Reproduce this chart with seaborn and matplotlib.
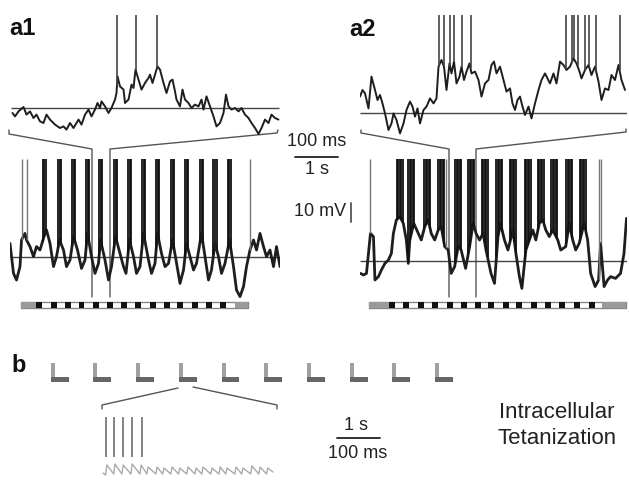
import numpy as np
import matplotlib.pyplot as plt
import seaborn as sns

# ---- a1: zoomed trace (ms, mV rel. to line) ----
a1z_t = [5, 10, 17, 27, 33, 40, 47, 53, 60, 67, 73, 80, 90, 100, 107, 113, 120, 127, 137, 143,
         150, 157, 163, 170, 175, 180, 183, 190, 197, 203, 210, 213, 215, 220, 227, 230, 237, 243, 247, 251,
         257, 263, 270, 277, 280, 285, 290, 295, 300, 307, 313, 320, 325, 330, 333, 340, 345, 350, 357, 363,
         370, 377, 383, 387, 393, 400, 407, 413, 420, 427, 432, 437, 443, 450, 457, 463, 470, 477, 483, 490,
         497, 503, 510, 517, 523, 530, 537]
a1z_v = [-2.5, -4.2, -1.7, 0.5, -3.3, -1.7, -5, -3.3, -6.7, -7.5, -3.3, -5.8, -8.3, -10, -9.2, -10.8, -7.5, -10, -5.8, -8.3,
         -3.3, -0.8, -4.2, -0.8, 2.5, 0, 3.3, 0.8, -2.5, 0, 4.2, 7.5, 15.8, 10.8, 9.2, 2.5, 4.2, 11.7, 10, 19.2,
         14.2, 9.2, 12.5, 15, 16.7, 12.5, 16.7, 20.8, 19.2, 12.5, 7.5, 13.3, 14.2, 8.3, 4.2, 0.8, 9.2, 4.2, 2.5, 0,
         1.7, 0.8, 4.2, -0.8, 5.8, 0.8, -4.2, -9.2, -7.5, -2.5, 6.7, 0.8, -0.8, 0, -1.7, 0, -3.3, -5, -7.5, -10,
         -13, -10, -5.8, -7.5, -3.3, -5, -5.8]
a1z_spikes = [214, 252, 294]

# ---- a1: full trace (s, mV) ----
a1_t = [0, 0.07, 0.13, 0.2, 0.23, 0.3, 0.33, 0.4, 0.47, 0.53, 0.6, 0.68, 0.73, 0.8, 0.87, 0.93, 0.99, 1.07, 1.13, 1.2,
        1.27, 1.35, 1.43, 1.5, 1.55, 1.63, 1.7, 1.77, 1.81, 1.9, 1.97, 2.03, 2.11, 2.2, 2.27, 2.32, 2.39, 2.47, 2.53, 2.6,
        2.67, 2.77, 2.83, 2.9, 2.95, 3.03, 3.1, 3.17, 3.25, 3.32, 3.4, 3.47, 3.53, 3.6, 3.67, 3.73, 3.83, 3.9, 3.97, 4.03,
        4.1, 4.17, 4.23, 4.3, 4.39, 4.47, 4.53, 4.6, 4.67, 4.73, 4.8, 4.87, 4.93, 5.0, 5.07, 5.13, 5.2, 5.27, 5.33, 5.4]
a1_v = [6.8, -8.2, -11.5, -4.8, 8.5, 11.8, 8.5, 5.2, 0.2, 5.2, 3.5, 10.2, 13.5, 6.8, -4.8, 0.2, 8.5, 3.5, -4.8, -1.5,
        10.2, 3.5, -5.7, -1.5, 11.8, 0.2, -8.2, -3.2, 8.5, -1.5, -11.5, -4.8, 10.2, 1.8, -4.8, -8.2, 8.5, 0.2, -8.2, -4.8,
        11.8, -1.5, -8.2, -3.2, 11.8, 1.8, -4.8, -3.2, 8.5, -1.5, -13.2, -6.5, 6.8, 0.2, -6.5, -3.2, 11.8, 0.2, -11.5, -6.5,
        6.8, 0.2, -8.2, -3.2, 8.5, -4.8, -16.5, -19.8, -14.8, -4.8, 3.5, 8.5, 3.5, 11.8, 5.2, 0.2, 3.5, -4.8, 5.2, -4.8]
a1_bursts = [0.68, 0.99, 1.27, 1.55, 1.81, 2.11, 2.39, 2.67, 2.95, 3.25, 3.53, 3.83, 4.1, 4.39]
a1_singles = [0.23, 0.33, 4.8]
a1_pulses = [0.57, 0.87, 1.15, 1.43, 1.71, 2.0, 2.28, 2.56, 2.85, 3.13, 3.4, 3.69, 3.97, 4.25]

# ---- a2: zoomed trace ----
a2z_t = [0, 5, 10, 17, 23, 30, 35, 40, 45, 50, 57, 63, 67, 73, 80, 87, 93, 100, 105, 110,
         115, 120, 127, 133, 140, 147, 153, 157, 163, 168, 173, 179, 183, 188, 193, 199, 203, 208, 213, 219,
         223, 230, 237, 243, 250, 257, 263, 268, 273, 280, 287, 293, 300, 305, 310, 315, 320, 325, 330, 337,
         343, 350, 357, 363, 370, 375, 380, 387, 393, 400, 407, 413, 420, 427, 433, 439, 443, 450, 457, 463,
         470, 477, 483, 490, 497, 503, 510, 517, 523, 530]
a2z_v = [8.2, 11.5, 9.8, 2.3, 18.2, 11.5, 6.5, 9, 4.8, -0.2, -8.5, -5.2, -0.2, -3.5, -10.2, -5.2, 1.5, 5.7, 3.2, -1.8,
         2.3, -5.2, 1.5, 3.2, 7.3, 4.8, 7.3, 23.2, 26.5, 23.2, 11.5, 24.8, 19.8, 25.7, 14.8, 18.2, 23.2, 16.5, 20.7, 24.8,
         19.8, 20.7, 16.5, 8.2, 14.8, 16.5, 24, 25.7, 19.8, 23.2, 16.5, 10.7, 12.3, 4.8, 1.5, 6.5, 8.2, 3.2, -1, 3.2,
         -2.7, 4.8, 11.5, 16.5, 19.8, 17.3, 14.8, 19.8, 14.8, 25.7, 24, 21.5, 23.2, 27.3, 24.8, 20.7, 17.3, 21.5, 24, 19,
         23.2, 15.7, 6.5, 12.3, 11.5, 19, 16.5, 24, 16.5, 11.5]
a2z_spikes = [157, 167, 180, 188, 203, 221, 412, 423, 427, 435, 450, 457, 472, 519]

# ---- a2: full trace ----
a2_t = [0.01, 0.07, 0.13, 0.21, 0.27, 0.3, 0.37, 0.43, 0.5, 0.57, 0.63, 0.67, 0.73, 0.8, 0.87, 0.93, 0.97, 1.0, 1.08, 1.17,
        1.23, 1.3, 1.37, 1.43, 1.5, 1.57, 1.63, 1.7, 1.77, 1.83, 1.9, 1.97, 2.03, 2.12, 2.2, 2.27, 2.33, 2.4, 2.47, 2.53,
        2.63, 2.7, 2.77, 2.82, 2.9, 2.97, 3.07, 3.13, 3.2, 3.25, 3.33, 3.4, 3.47, 3.53, 3.6, 3.67, 3.73, 3.8, 3.87, 3.97,
        4.03, 4.13, 4.2, 4.27, 4.33, 4.4, 4.5, 4.57, 4.63, 4.72, 4.79, 4.83, 4.9, 4.97, 5.03, 5.13, 5.23, 5.3, 5.35]
a2_v = [-6.2, -7, -6.2, 13.8, 12.2, -9.5, -7.8, -4.5, -1.2, 0.5, 3.8, 13.8, 20.5, 22.2, 18.8, 10.5, -1.2, 10.5, 18.8, 13.8,
        10.5, 17.2, 20.5, 13.8, 10.5, 15.5, 17.2, 7.2, 5.5, -6.2, -2.8, 7.2, 5.5, -3.7, 7.2, 18.8, 13.8, 10.5, 13.8, 5.5,
        -6.2, -11.2, 12.2, 18.8, 10.5, 5.5, 15.5, 3.8, -7.8, -13.7, 5.5, 10.5, 15.5, 10.5, 18.8, 20.5, 15.5, 12.2, 15.5, 10.5,
        5.5, 7.2, 18.8, 10.5, 5.5, 8.8, 18.8, 10.5, -6.2, -12.8, -9.5, 8.8, -12.8, -9.5, -7.8, -8.7, -6.2, 3.8, 21.3]
a2_bursts = [0.8, 1.03, 1.35, 1.63, 1.97, 2.23, 2.5, 2.8, 3.07, 3.37, 3.63, 3.9, 4.2, 4.47]
a2_singles = [0.21, 1.73, 4.79, 4.83]
a2_pulses = [0.65, 0.93, 1.22, 1.51, 1.8, 2.08, 2.36, 2.63, 2.93, 3.2, 3.49, 3.77, 4.05, 4.35, 4.65]

# ---- b: trains and one expanded train ----
train_onsets = [0.25, 1.25, 2.25, 3.25, 4.25, 5.25, 6.25, 7.25, 8.25, 9.25]
b_spikes = [14, 33, 54, 75, 98]
wave_t = [7, 13, 16, 32, 35, 51, 54, 72, 75, 93, 96, 109, 112, 130, 133, 146, 149, 165, 168, 183, 186,
          202, 205, 221, 224, 237, 240, 258, 261, 277, 280, 293, 296, 314, 317, 330, 333, 351, 354, 370, 373,
          388, 391, 403]
wave_v = [1, 0, 5, 0.5, 5.5, 0.5, 5, 0.5, 5.5, 0.5, 5, 0.5, 4, 0.5, 4, 0.5, 3.5, 0.5, 4, 0.5, 3.5,
          0.5, 4, 0.5, 3.5, 0.5, 4, 0.5, 3.5, 0.5, 4, 0.5, 3.5, 0.5, 4, 0.5, 3.5, 0.5, 4.5, 0.5, 4,
          0.5, 3.5, 1.5]

W, H = 629, 480
sns.set_style('white')
plt.rcParams['font.family'] = ['Liberation Sans', 'DejaVu Sans']
TXT = '#222222'

fig = plt.figure(figsize=(W / 100, H / 100), dpi=100)


def px_axes(x0, y0, x1, y1):
    ax = fig.add_axes([x0 / W, 1 - y1 / H, (x1 - x0) / W, (y1 - y0) / H])
    ax.set_axis_off()
    ax.patch.set_visible(False)
    return ax


# overlay in pixel units for brackets, scale bars and labels
ov = px_axes(0, 0, W, H)
ov.set_xlim(0, W)
ov.set_ylim(H, 0)


def trace(ax, t, v, spikes, peak, color='#333333', lw=1.2, trace_lw=1.4):
    sns.lineplot(x=t, y=v, ax=ax, color='#1e1e1e', lw=trace_lw, estimator=None)
    base = np.interp(spikes, t, v)
    ax.vlines(spikes, base, peak, color=color, lw=lw)


def bursts(ax, t, v, onsets, offsets, peak):
    times = np.concatenate([np.asarray(onsets) + o for o in offsets])
    ax.vlines(times, np.interp(times, t, v), peak, color='#111111', lw=1.3)


def stim_bar(ax, start, end, gray_l, gray_r, pulses, width=0.12):
    ax.set_ylim(0, 1)
    ax.broken_barh([(start, end - start)], (0.1, 0.8), facecolor='white', edgecolor='#888888', lw=1)
    ax.broken_barh([(start, gray_l - start), (gray_r, end - gray_r)], (0.1, 0.8),
                   facecolor='#9a9a9a', edgecolor='none', lw=0)
    ax.broken_barh([(p - width / 2, width) for p in pulses], (0.1, 0.8),
                   facecolor='#111111', edgecolor='none', lw=0)


# a1 zoom
ax = px_axes(10, 10, 280, 140)
ax.set_xlim(0, 540)
ax.set_ylim(-16, 49)
ax.hlines(0, 2, 537, color='#444444', lw=1)
trace(ax, a1z_t, a1z_v, a1z_spikes, 46.5, color='#444444')

# a1 full
ax = px_axes(10, 150, 280, 310)
ax.set_xlim(0, 5.4)
ax.set_ylim(-26.5, 53.5)
ax.hlines(0, 0, 5.4, color='#444444', lw=1)
trace(ax, a1_t, a1_v, a1_singles, 49, color='#777777', lw=1, trace_lw=2.0)
bursts(ax, a1_t, a1_v, a1_bursts, [-0.03, 0, 0.03], 49)
ax = px_axes(10, 301, 280, 309)
ax.set_xlim(0, 5.4)
stim_bar(ax, 0.22, 4.76, 0.52, 4.5, a1_pulses)

# a2 zoom
ax = px_axes(360, 10, 627, 140)
ax.set_xlim(0, 534)
ax.set_ylim(-13.5, 51.5)
ax.hlines(0, 0, 534, color='#444444', lw=1)
trace(ax, a2z_t, a2z_v, a2z_spikes, 49, color='#444444')

# a2 full
ax = px_axes(360, 150, 627, 310)
ax.set_xlim(0, 5.36)
ax.set_ylim(-24.5, 55.5)
ax.hlines(0, 0, 5.36, color='#444444', lw=1)
trace(ax, a2_t, a2_v, a2_singles, 51, color='#777777', lw=1, trace_lw=2.0)
bursts(ax, a2_t, a2_v, a2_bursts, [-0.06, -0.03, 0, 0.03, 0.06], 51)
ax = px_axes(360, 301, 627, 309)
ax.set_xlim(0, 5.36)
stim_bar(ax, 0.18, 5.34, 0.6, 4.86, a2_pulses)

# b: trains as L marks
ax = px_axes(40, 360, 480, 385)
ax.set_xlim(0, 10.3)
ax.set_ylim(0, 25)
ax.bar(train_onsets, 19, width=0.094, bottom=3, align='edge', color='#a0a0a0', edgecolor='none', lw=0)
ax.bar(train_onsets, 5, width=0.42, bottom=3, align='edge', color='#666666', edgecolor='none', lw=0)

# b: one expanded train
ax = px_axes(100, 410, 285, 480)
ax.set_xlim(0, 431)
ax.set_ylim(-2.5, 32.5)
ax.vlines(b_spikes, 9, 29, color='#7a7a7a', lw=1.3)
sns.lineplot(x=wave_t, y=wave_v, ax=ax, color='#aaaaaa', lw=1, estimator=None)

# brackets
lc = dict(color='#555555', lw=1)
ov.plot([9, 9, 92, 92], [130, 134, 149, 297], **lc)
ov.plot([110, 110, 277, 278], [297, 149, 133, 130], **lc)
ov.plot([361, 361, 449, 449], [130, 133, 149, 297], **lc)
ov.plot([476, 476, 626, 626], [297, 149, 132, 129], **lc)
ov.plot([178, 102, 102], [388, 405, 409], **lc)
ov.plot([193, 277, 277], [387, 405, 409], **lc)

# scale bars
ov.text(317, 142, '100 ms', ha='center', va='center', fontsize=13, color=TXT)
ov.plot([295, 338], [157, 157], color=TXT, lw=1.3)
ov.text(317, 170, '1 s', ha='center', va='center', fontsize=13, color=TXT)
ov.text(346, 212, '10 mV', ha='right', va='center', fontsize=13, color=TXT)
ov.plot([351, 351], [203, 222], color='#555555', lw=1.3)
ov.text(356, 425, '1 s', ha='center', va='center', fontsize=13, color=TXT)
ov.plot([337, 380], [438, 438], color=TXT, lw=1.3)
ov.text(358, 453, '100 ms', ha='center', va='center', fontsize=13, color=TXT)
ov.text(557, 413, 'Intracellular', ha='center', va='center', fontsize=16, color=TXT)
ov.text(557, 438, 'Tetanization', ha='center', va='center', fontsize=16, color=TXT)

# panel labels
ov.text(9, 35, 'a1', fontsize=17, fontweight='bold', va='baseline', color='#111111')
ov.text(349, 36, 'a2', fontsize=17, fontweight='bold', va='baseline', color='#111111')
ov.text(11, 372, 'b', fontsize=17, fontweight='bold', va='baseline', color='#111111')

fig.savefig('out.png', dpi=100)
plt.close(fig)
